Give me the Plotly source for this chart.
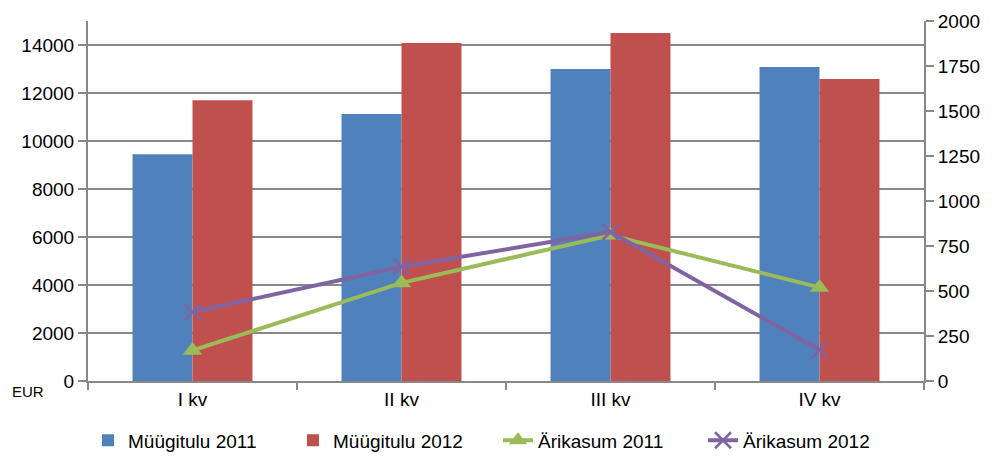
import plotly.graph_objects as go

categories = ["I kv", "II kv", "III kv", "IV kv"]
sales_2011 = [9450, 11120, 13000, 13080]
sales_2012 = [11700, 14080, 14500, 12580]
profit_2011 = [170, 545, 810, 520]
profit_2012 = [383, 635, 828, 172]
left_ticks = [0, 2000, 4000, 6000, 8000, 10000, 12000, 14000]
left_labels = ["0", "2000", "4000", "6000", "8000", "10000", "12000", "14000"]
right_ticks = [0, 250, 500, 750, 1000, 1250, 1500, 1750, 2000]
right_labels = ["0", "250", "500", "750", "1000", "1250", "1500", "1750", "2000"]

font_main = "Liberation Sans, Arial, sans-serif"

fig = go.Figure()
fig.add_trace(go.Bar(x=categories, y=sales_2011, name="Müügitulu 2011",
                     marker=dict(color="#4F81BD", line=dict(width=0))))
fig.add_trace(go.Bar(x=categories, y=sales_2012, name="Müügitulu 2012",
                     marker=dict(color="#C0504D", line=dict(width=0))))
fig.add_trace(go.Scatter(x=categories, y=profit_2011, name="Ärikasum 2011", yaxis="y2",
                         mode="lines+markers",
                         line=dict(color="#9BBB59", width=4),
                         marker=dict(symbol="triangle-up", size=17, color="#9BBB59")))
fig.add_trace(go.Scatter(x=categories, y=profit_2012, name="Ärikasum 2012", yaxis="y2",
                         mode="lines+markers",
                         line=dict(color="#8064A2", width=4),
                         marker=dict(symbol="x-thin", size=16,
                                     line=dict(color="#8064A2", width=2.5))))

# page body has an 8px default margin, so the figure is drawn 8px in from the corner
fig.update_layout(
    width=979, height=448,
    margin=dict(l=80, r=63, t=13, b=75, autoexpand=False),
    plot_bgcolor="white", paper_bgcolor="white",
    barmode="group", bargap=0.426, bargroupgap=0,
    font=dict(family=font_main, size=15, color="black"),
    showlegend=True,
    legend=dict(orientation="h", x=0.0, xanchor="left", y=-0.165, yanchor="middle",
                font=dict(size=19, family=font_main), traceorder="normal",
                itemwidth=30, entrywidth=160, entrywidthmode="pixels"),
    xaxis=dict(type="category", showline=True, linecolor="#888888", linewidth=2,
               ticks="outside", tickson="boundaries", ticklen=7, tickcolor="#888888",
               tickwidth=2, showgrid=False, automargin=False,
               tickfont=dict(size=19, family=font_main)),
    yaxis=dict(range=[0, 15000], tickvals=left_ticks, ticktext=left_labels, showgrid=True,
               gridcolor="#888888", gridwidth=2, showline=True, linecolor="#888888",
               linewidth=2, ticks="outside", ticklen=8, tickcolor="#888888", tickwidth=2,
               zeroline=False, automargin=False,
               tickfont=dict(size=19, family=font_main)),
    yaxis2=dict(range=[0, 2000], tickvals=right_ticks, ticktext=right_labels,
                overlaying="y", side="right",
                showgrid=False, showline=True, linecolor="#888888", linewidth=2,
                ticks="outside", ticklen=8, tickcolor="#888888", tickwidth=2,
                zeroline=False, automargin=False,
                tickfont=dict(size=19, family=font_main)),
)
fig.add_annotation(text="EUR", xref="paper", yref="paper", x=-0.093, y=-0.03,
                   xanchor="left", yanchor="middle", showarrow=False,
                   font=dict(size=15, family=font_main))

fig.write_html("out.html")
